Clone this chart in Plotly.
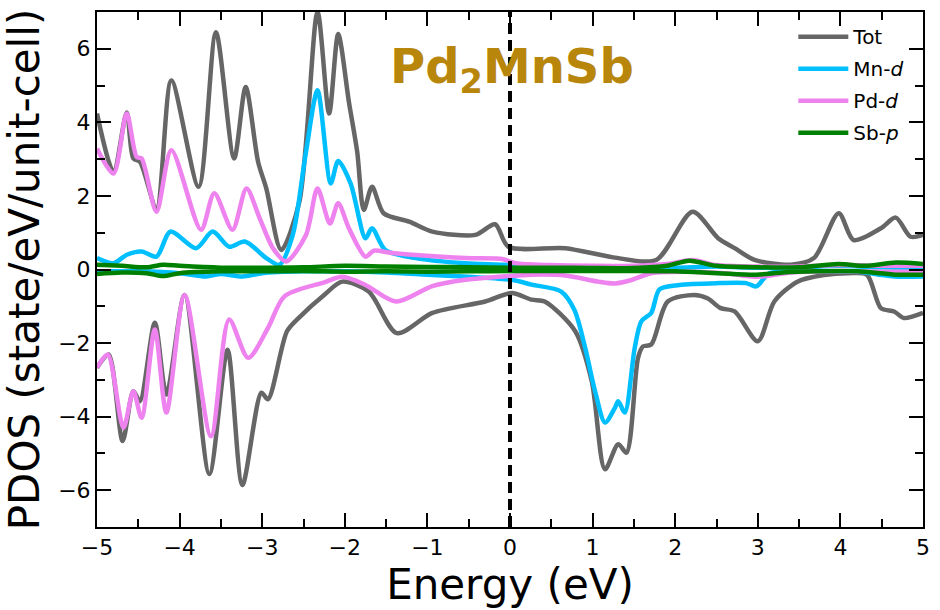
import plotly.graph_objects as go

# ---------------- data ----------------
E_tot_up = [-5.0, -4.8, -4.64, -4.56, -4.48, -4.28, -4.10, -3.77, -3.56, -3.34, -3.20, -3.05, -2.95,
            -2.77, -2.55, -2.33, -2.19, -2.08, -1.95, -1.85, -1.77, -1.67, -1.53, -1.22, -0.94, -0.42,
            -0.18, -0.02, 0.67, 1.25, 1.77, 2.21, 2.52, 2.72, 2.96, 3.40, 3.68, 3.98, 4.16, 4.49, 4.67,
            4.85, 5.0]
tot_up = [4.24, 2.66, 4.27, 3.02, 2.93, 1.66, 5.14, 2.25, 6.45, 3.02, 4.96, 2.93, 2.2,
          0.53, 1.84, 7.0, 4.24, 6.4, 4.55, 3.2, 1.62, 2.25, 1.53, 1.30, 1.03, 0.94,
          1.23, 0.62, 0.58, 0.33, 0.26, 1.57, 0.85, 0.58, 0.26, 0.13, 0.31, 1.53, 0.80, 1.12, 1.41,
          0.89, 0.94]

E_tot_dn = [-5.0, -4.86, -4.69, -4.56, -4.48, -4.30, -4.16, -3.94, -3.64, -3.42, -3.24, -3.01, -2.93,
            -2.70, -2.56, -2.25, -2.03, -1.71, -1.37, -0.94, -0.30, 0.02, 0.26, 0.42, 0.79, 0.99,
            1.15, 1.31, 1.41, 1.55, 1.61, 1.71, 1.91, 2.23, 2.39, 2.55, 2.72, 3.0, 3.2, 3.48, 3.8,
            4.1, 4.32, 4.49, 4.65, 4.77, 5.0]
tot_dn = [-2.67, -2.31, -4.66, -3.31, -3.58, -1.45, -3.40, -0.69, -5.56, -2.18, -5.86, -3.35, -3.53,
          -1.68, -1.32, -0.69, -0.33, -0.6, -1.73, -1.18, -0.87, -0.64, -0.82, -0.87, -1.68, -3.04,
          -5.43, -4.75, -4.98, -2.40, -2.09, -2.04, -0.87, -0.69, -0.78, -1.05, -1.14, -1.95, -0.87,
          -0.33, -0.15, -0.1, -0.14, -1.05, -1.14, -1.32, -1.18]

E_mn_up = [-5.0, -4.8, -4.64, -4.46, -4.28, -4.11, -3.80, -3.60, -3.40, -3.21, -2.95, -2.79, -2.63,
           -2.47, -2.33, -2.17, -2.08, -1.93, -1.75, -1.67, -1.51, -1.14, -0.54, -0.06, 0.5, 1.0,
           1.5, 2.0, 2.5, 3.0, 3.5, 3.98, 4.5, 5.0]
mn_up = [0.31, 0.17, 0.40, 0.49, 0.35, 1.03, 0.58, 1.03, 0.62, 0.76, 0.31, 0.13, 0.94,
         3.2, 4.87, 2.34, 2.95, 2.34, 0.85, 1.12, 0.53, 0.31, 0.17, 0.13, 0.05, 0.05,
         0.05, 0.05, 0.08, 0.05, 0.06, 0.1, 0.06, 0.05]

E_mn_dn = [-5.0, -4.5, -4.0, -3.68, -3.5, -3.24, -3.0, -2.5, -2.0, -1.5, -1.0, -0.5, 0.02, 0.26,
           0.62, 0.78, 0.91, 1.03, 1.15, 1.27, 1.31, 1.39, 1.51, 1.59, 1.71, 1.81, 2.05, 2.52, 2.86,
           2.98, 3.14, 3.4, 3.7, 4.0, 4.3, 4.5, 4.66, 5.0]
mn_dn = [-0.05, -0.05, -0.1, -0.19, -0.12, -0.19, -0.1, -0.05, -0.05, -0.08, -0.14, -0.2, -0.28, -0.41,
         -0.6, -1.1, -2.13, -3.31, -4.16, -3.76, -3.58, -3.89, -2.13, -1.41, -1.18, -0.54, -0.42, -0.37,
         -0.37, -0.46, -0.1, -0.06, -0.05, -0.05, -0.08, -0.15, -0.19, -0.19]

E_pd_up = [-5.0, -4.8, -4.64, -4.52, -4.46, -4.28, -4.10, -3.74, -3.58, -3.36, -3.19, -3.03, -2.87,
           -2.71, -2.47, -2.33, -2.18, -2.08, -1.95, -1.75, -1.65, -1.43, -0.54, -0.08, 0.07, 0.5,
           1.0, 1.5, 1.9, 2.21, 2.5, 3.0, 3.5, 4.0, 4.5, 5.0]
pd_up = [3.29, 2.61, 4.24, 3.06, 3.02, 1.57, 3.24, 1.08, 2.07, 1.08, 2.2, 1.39, 0.58,
         0.22, 0.94, 2.2, 1.25, 1.8, 1.12, 0.35, 0.51, 0.45, 0.31, 0.28, 0.17, 0.12,
         0.1, 0.1, 0.15, 0.26, 0.12, 0.08, 0.08, 0.12, 0.1, 0.1]

E_pd_dn = [-5.0, -4.87, -4.68, -4.56, -4.46, -4.30, -4.16, -3.94, -3.62, -3.40, -3.17, -2.93, -2.73,
           -2.25, -2.03, -1.75, -1.38, -0.94, -0.54, -0.14, 0.26, 0.67, 1.07, 1.27, 1.45, 1.71, 2.2,
           2.6, 3.0, 3.4, 4.0, 4.5, 5.0]
pd_dn = [-2.67, -2.31, -4.30, -3.31, -4.03, -1.63, -3.89, -0.69, -4.53, -1.36, -2.40, -1.59, -0.73,
         -0.35, -0.2, -0.42, -0.87, -0.45, -0.28, -0.2, -0.14, -0.16, -0.33, -0.38, -0.3, -0.1, -0.06,
         -0.1, -0.2, -0.08, -0.05, -0.06, -0.06]

E_sb_up = [-5.0, -4.7, -4.4, -4.2, -4.0, -3.5, -3.0, -2.5, -2.0, -1.5, -1.0, -0.5, 0.0, 0.5, 1.0,
           1.5, 1.9, 2.17, 2.5, 3.0, 3.5, 3.98, 4.3, 4.67, 5.0]
sb_up = [0.13, 0.1, 0.06, 0.13, 0.1, 0.05, 0.05, 0.06, 0.1, 0.08, 0.07, 0.06, 0.05, 0.05, 0.04,
         0.04, 0.1, 0.24, 0.1, 0.06, 0.06, 0.15, 0.1, 0.19, 0.15]

E_sb_dn = [-5.0, -4.7, -4.4, -4.2, -4.0, -3.5, -3.0, -2.5, -2.0, -1.5, -1.0, -0.5, 0.0, 0.5, 1.0,
           1.5, 2.0, 2.52, 2.98, 3.3, 3.7, 4.2, 4.67, 5.0]
sb_dn = [-0.12, -0.08, -0.1, -0.18, -0.1, -0.05, -0.05, -0.04, -0.06, -0.05, -0.06, -0.05, -0.04, -0.04,
         -0.04, -0.04, -0.05, -0.1, -0.14, -0.08, -0.05, -0.05, -0.14, -0.14]

x_ticks = [-5, -4, -3, -2, -1, 0, 1, 2, 3, 4, 5]
y_ticks = [-6, -4, -2, 0, 2, 4, 6]

series = [
    ("Tot", "#666666", E_tot_up, tot_up, E_tot_dn, tot_dn),
    ("Mn-<i>d</i>", "#00BFFF", E_mn_up, mn_up, E_mn_dn, mn_dn),
    ("Pd-<i>d</i>", "#EE82EE", E_pd_up, pd_up, E_pd_dn, pd_dn),
    ("Sb-<i>p</i>", "#008000", E_sb_up, sb_up, E_sb_dn, sb_dn),
]

FONT = "DejaVu Sans"
fig = go.Figure()
for name, col, eu, vu, ed, vd in series:
    fig.add_trace(go.Scatter(x=eu, y=vu, mode="lines", name=name, legendgroup=name,
                             line=dict(color=col, width=4.5, shape="spline", smoothing=0.8)))
    fig.add_trace(go.Scatter(x=ed, y=vd, mode="lines", name=name, legendgroup=name, showlegend=False,
                             line=dict(color=col, width=4.5, shape="spline", smoothing=0.8)))

fig.add_vline(x=0, line=dict(color="black", width=4, dash="11px,6px"))

fig.add_annotation(text="<b>Pd<sub>2</sub>MnSb</b>", xref="paper", yref="paper",
                   x=0.503, y=0.888, xanchor="center", yanchor="middle", showarrow=False,
                   font=dict(family=FONT, size=48, color="#B8860B"))

axis_common = dict(showline=True, linewidth=2, linecolor="black", mirror="allticks",
                   ticks="inside", ticklen=14, tickwidth=2, tickcolor="black",
                   showgrid=False, zeroline=False,
                   tickfont=dict(family=FONT, size=22, color="black"))

fig.update_xaxes(range=[-5, 5], tickvals=x_ticks,
                 minor=dict(dtick=0.5, ticks="inside", ticklen=8, tickwidth=2, tickcolor="black", showgrid=False),
                 title=dict(text="Energy (eV)", font=dict(family=FONT, size=42, color="black"), standoff=8),
                 **axis_common)
fig.update_yaxes(range=[-7, 7], tickvals=y_ticks,
                 minor=dict(dtick=1, ticks="inside", ticklen=8, tickwidth=2, tickcolor="black", showgrid=False),
                 title=dict(text="PDOS (state/eV/unit-cell)", font=dict(family=FONT, size=42, color="black"), standoff=6),
                 **axis_common)

fig.update_layout(
    width=940, height=610,
    margin=dict(l=97, r=14, t=10, b=83),
    plot_bgcolor="white", paper_bgcolor="white",
    font=dict(family=FONT, color="black"),
    legend=dict(x=0.843, y=0.99, xanchor="left", yanchor="top", bgcolor="rgba(0,0,0,0)",
                font=dict(family=FONT, size=20, color="black"), tracegroupgap=3, itemwidth=50),
)

fig.write_html("out.html")
